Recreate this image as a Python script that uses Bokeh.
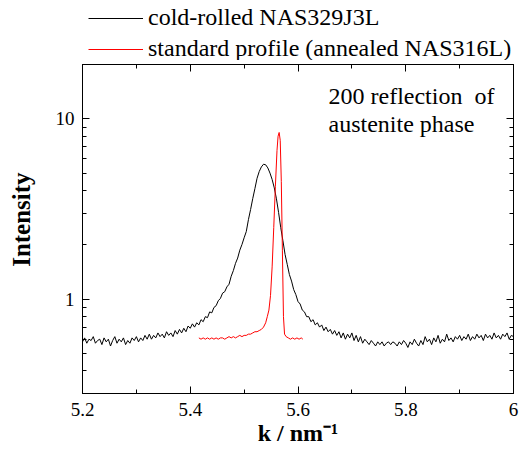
from bokeh.plotting import figure
from bokeh.layouts import column
from bokeh.models import (Range1d, FixedTicker, LinearAxis, LogAxis, Legend, LegendItem,
                          Label, BasicTickFormatter)
from bokeh.embed import file_html
from bokeh.resources import INLINE
import numpy as np

# ---------------- data ----------------
# cold-rolled NAS329J3L : k from 5.200 to 6.000, step 0.004 ; intensity x 100
black_k_start, black_k_end = 5.2, 6.0
black_int_x100 = [
    58, 61, 57, 60, 59, 62, 57, 59, 60, 56, 61, 58, 60, 55, 59, 62, 57, 60, 58, 61, 56, 59, 57, 61, 59,
    62, 58, 61, 59, 63, 60, 64, 60, 63, 61, 65, 62, 64, 61, 66, 63, 65, 62, 67, 64, 68, 65, 69, 66, 71,
    69, 73, 70, 74, 72, 77, 75, 80, 79, 85, 84, 90, 92, 98, 101, 108, 110, 117, 121, 134, 144, 158, 169, 187, 201,
    219, 237, 276, 314, 361, 410, 468, 510, 541, 560, 556, 534, 500, 461, 414, 360, 302, 249, 211, 177, 156, 137, 126, 113, 106,
    97, 94, 87, 85, 80, 80, 75, 77, 72, 74, 70, 72, 67, 70, 66, 68, 64, 67, 63, 66, 61, 65, 60, 64, 61,
    65, 59, 63, 58, 62, 57, 60, 58, 56, 59, 57, 55, 58, 56, 58, 55, 57, 58, 56, 58, 57, 55, 58, 56, 59,
    57, 54, 58, 56, 60, 57, 55, 59, 56, 62, 58, 60, 56, 61, 58, 63, 57, 60, 58, 64, 59, 61, 58, 62, 60,
    63, 59, 62, 60, 64, 59, 62, 60, 64, 61, 63, 59, 64, 61, 63, 60, 65, 61, 63, 60, 64, 62, 65, 60, 63, 62,
]

# standard profile (annealed NAS316L)
red_k = [5.416, 5.420, 5.424, 5.428, 5.432, 5.436, 5.440, 5.444, 5.448, 5.452, 5.456,
         5.460, 5.464, 5.468, 5.472, 5.476, 5.480, 5.484, 5.488, 5.492, 5.496, 5.500,
         5.504, 5.508, 5.512, 5.516, 5.520, 5.524, 5.528, 5.532, 5.536,
         5.540, 5.543, 5.546, 5.549, 5.552, 5.555, 5.558, 5.561, 5.563, 5.565, 5.567,
         5.569, 5.571, 5.573, 5.575, 5.578, 5.582, 5.586, 5.590, 5.594, 5.598, 5.602,
         5.606, 5.609]
red_int_x100 = [61, 60, 61, 60, 61, 60, 61, 60, 61, 60, 61, 61, 60, 61, 62, 61, 62, 61, 62, 63,
                62, 63, 63, 64, 64, 65, 66, 66, 67, 68, 70,
                74, 80, 87, 105, 151, 250, 420, 666, 800, 840, 760, 450, 187, 80, 64, 62, 61,
                60, 61, 60, 61, 60, 61, 60]

x_major_ticks = [5.2, 5.4, 5.6, 5.8, 6.0]
x_minor_ticks = [5.3, 5.5, 5.7, 5.9]
y_major_ticks = [1, 10]
y_minor_ticks = [0.3, 0.4, 0.5, 0.6, 0.7, 0.8, 0.9, 2, 3, 4, 5, 6, 7, 8, 9, 20]

series_names = ["cold-rolled NAS329J3L", "standard profile (annealed NAS316L)"]
series_colors = ["black", "#ff0000"]
annotation_lines = ["200 reflection\u00a0 of", "austenite phase"]
x_title = "k / nm\u207b\u00b9"
y_title = "Intensity"

black_k = np.linspace(black_k_start, black_k_end, len(black_int_x100))
black_y = np.array(black_int_x100) / 100.0
red_y = np.array(red_int_x100) / 100.0

FONT = "Liberation Serif"
W = 525
BL, BR = 82, 12   # same left/right borders for both stacked figures

# ---------------- legend strip (above the plot box) ----------------
leg = figure(width=W, height=60, x_range=Range1d(0, 1), y_range=Range1d(0, 1),
             output_backend="svg", toolbar_location=None,
             x_axis_location=None, y_axis_location=None,
             min_border_left=BL, min_border_right=BR, min_border_top=0, min_border_bottom=0)
leg.grid.visible = False
leg.outline_line_color = None
# same series, outside this strip's ranges: only their legend entries show
leg_r0 = leg.line(black_k, black_y, line_color=series_colors[0], line_width=1)
leg_r1 = leg.line(red_k, red_y, line_color=series_colors[1], line_width=1)
legend = Legend(items=[LegendItem(label=series_names[0], renderers=[leg_r0]),
                       LegendItem(label=series_names[1], renderers=[leg_r1])],
                location=(6, -2), orientation="vertical",
                glyph_width=55, glyph_height=24, label_height=24, label_standoff=5,
                spacing=4, padding=0, margin=0,
                label_text_font=FONT, label_text_font_size="24px",
                label_text_color="black",
                border_line_color=None, background_fill_alpha=0)
leg.add_layout(legend, "center")

# ---------------- main plot ----------------
p = figure(width=W, height=392, x_range=Range1d(5.2, 6.0), y_range=Range1d(0.3, 20),
           y_axis_type="log", output_backend="svg", toolbar_location=None,
           min_border_left=BL, min_border_right=BR, min_border_top=4, min_border_bottom=59)
p.grid.visible = False
p.outline_line_color = "black"
p.background_fill_color = "white"
p.border_fill_color = "white"

p.line(black_k, black_y, line_color=series_colors[0], line_width=1)
p.line(red_k, red_y, line_color=series_colors[1], line_width=1)

xt = FixedTicker(ticks=x_major_ticks, minor_ticks=x_minor_ticks)
yt = FixedTicker(ticks=y_major_ticks, minor_ticks=y_minor_ticks)


def style_axis(ax, labels=True):
    ax.axis_line_color = "black"
    ax.axis_line_width = 1
    ax.major_tick_in = 7
    ax.major_tick_out = 0
    ax.minor_tick_in = 4
    ax.minor_tick_out = 0
    ax.major_tick_line_color = "black"
    ax.minor_tick_line_color = "black"
    ax.major_label_text_font = FONT
    ax.major_label_text_color = "black"
    if labels:
        ax.major_label_text_font_size = "19px"
        ax.major_label_standoff = 9
    else:
        ax.major_label_text_font_size = "1px"
        ax.major_label_text_alpha = 0
        ax.major_label_standoff = 0


xaxis = p.xaxis[0]
xaxis.ticker = xt
style_axis(xaxis)
xaxis.axis_label = x_title
xaxis.axis_label_text_font = FONT
xaxis.axis_label_text_font_style = "bold"
xaxis.axis_label_text_font_size = "24px"
xaxis.axis_label_text_color = "black"
xaxis.axis_label_standoff = 1

yaxis = p.yaxis[0]
yaxis.ticker = yt
yaxis.formatter = BasicTickFormatter()
style_axis(yaxis)
yaxis.major_label_standoff = 8
yaxis.axis_label = "\u00a0\u00a0\u00a0" + y_title
yaxis.axis_label_text_font = FONT
yaxis.axis_label_text_font_style = "bold"
yaxis.axis_label_text_font_size = "25px"
yaxis.axis_label_text_color = "black"
yaxis.axis_label_standoff = 18

top = LinearAxis(ticker=xt)
style_axis(top, labels=False)
right = LogAxis(ticker=yt)
style_axis(right, labels=False)
p.add_layout(right, "right")
p.add_layout(top, "above")

# annotation inside the plot box
p.add_layout(Label(x=246, y=298, x_units="screen", y_units="screen", text=annotation_lines[0],
                   text_font=FONT, text_font_size="24px", text_baseline="alphabetic",
                   text_color="black"))
p.add_layout(Label(x=246, y=270, x_units="screen", y_units="screen", text=annotation_lines[1],
                   text_font=FONT, text_font_size="24px", text_baseline="alphabetic",
                   text_color="black"))

layout = column(leg, p, spacing=0)
open("out.html", "w").write(file_html(layout, INLINE))
